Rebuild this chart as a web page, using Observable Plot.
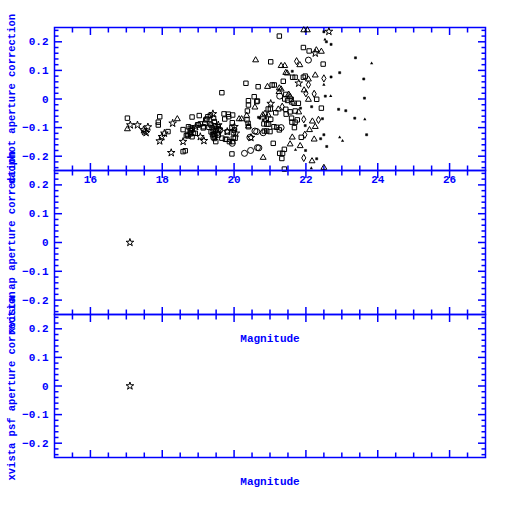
<!DOCTYPE html>
<html>
<head>
<meta charset="utf-8">
<script src="https://cdn.jsdelivr.net/npm/d3@7"></script>
<script src="https://cdn.jsdelivr.net/npm/@observablehq/plot@0.6"></script>
<style>
  html, body { margin: 0; padding: 0; background: white; }
  #chart { position: relative; width: 512px; height: 512px; }
  #chart svg { position: absolute; left: 0; top: 0; }
</style>
</head>
<body>
<div id="chart"></div>
<script>
// ---- axis values ----
const xLimits = [15, 27];
const yLimits = [-0.25, 0.25];
const xMajor = [16, 18, 20, 22, 24, 26];
const xMinor = [15.5, 16.5, 17, 17.5, 18.5, 19, 19.5, 20.5, 21, 21.5, 22.5, 23, 23.5, 24.5, 25, 25.5, 26.5];
const yMajor = [-0.2, -0.1, 0, 0.1, 0.2];
const yMinor = [-0.24, -0.22, -0.18, -0.16, -0.14, -0.12, -0.08, -0.06, -0.04, -0.02,
                0.02, 0.04, 0.06, 0.08, 0.12, 0.14, 0.16, 0.18, 0.22, 0.24];
const yLabels = ["daophot aperture correction", "xvista ap aperture correction", "xvista psf aperture correction"];
const xLabel = "Magnitude";

// ---- top panel: [magnitude, correction] by marker ----
const squares = [
  [17.03,-0.067],[17.89,-0.081],[17.89,-0.091],[17.93,-0.062],[18.16,-0.114],[18.58,-0.107],[18.58,-0.184],[18.64,-0.181],
  [18.78,-0.122],[18.83,-0.063],[18.78,-0.111],[18.83,-0.102],[18.87,-0.120],[19.0,-0.090],[19.03,-0.058],[19.14,-0.101],
  [19.19,-0.085],[19.24,-0.070],[19.30,-0.099],[19.33,-0.087],[19.43,-0.067],[19.45,-0.079],[19.49,-0.149],[19.66,0.022],
  [19.72,-0.052],[19.74,-0.070],[19.76,-0.141],[19.85,-0.062],[19.94,-0.192],[19.95,-0.083],[19.98,-0.118],[19.98,-0.137],
  [20.33,0.055],[20.37,-0.042],[20.40,-0.006],[20.40,-0.021],[20.40,-0.097],[20.56,0.008],[20.63,-0.009],[20.67,0.043],
  [20.65,-0.007],[21.26,0.220],[21.93,0.180],[22.09,0.168],[21.02,0.130],[22.48,0.122],[21.63,0.076],[21.70,0.076],
  [21.93,0.076],[21.98,0.080],[21.37,0.062],[21.06,0.049],[21.12,0.049],[21.44,0.016],[21.41,0.0],[21.49,-0.005],
  [21.59,-0.001],[22.30,-0.001],[20.95,-0.035],[21.01,-0.035],[21.44,-0.036],[21.67,-0.015],[21.79,-0.015],[21.56,-0.045],
  [21.70,-0.042],[22.43,-0.032],[21.16,-0.048],[21.45,-0.053],[21.60,-0.067],[21.76,-0.073],[20.83,-0.087],[20.91,-0.088],
  [20.96,-0.088],[21.02,-0.071],[21.61,-0.081],[21.70,-0.081],[21.11,-0.097],[21.19,-0.099],[21.68,-0.100],[20.84,-0.112],
  [20.91,-0.112],[21.0,-0.114],[21.26,-0.108],[21.09,-0.155],[21.87,-0.134],[21.40,-0.176],[21.27,-0.190],[21.35,-0.190],
  [21.33,-0.208],[21.40,-0.245],
  [19.21,-0.073],[19.27,-0.062],[19.34,-0.057],[19.84,-0.053],[19.96,-0.056],[20.36,-0.073],[20.39,-0.085],
  [19.66,-0.137],[19.80,-0.141],[19.87,-0.149],[19.96,-0.149],[20.03,-0.137],[19.56,-0.097],[19.61,-0.108],[19.56,-0.126],
  [19.81,-0.115],[19.94,-0.099],[20.01,-0.108],[19.06,-0.087],[18.99,-0.091],[18.73,-0.097],[18.78,-0.102],[18.83,-0.108],
  [18.83,-0.132],[18.92,-0.120],[19.15,-0.097],
  [19.36,-0.091],[19.39,-0.101],[19.42,-0.112],[19.44,-0.122],[19.47,-0.129],[19.50,-0.105],[19.42,-0.133],[19.36,-0.115],
  [19.53,-0.119],[19.47,-0.094],[18.67,-0.128],[18.72,-0.129],[18.70,-0.124],[19.40,-0.125],[19.45,-0.138]
];
const stars = [
  [17.11,-0.091],[17.31,-0.091],[17.48,-0.108],[17.51,-0.114],[17.55,-0.118],[17.60,-0.098],[17.93,-0.147],[17.99,-0.132],
  [18.06,-0.120],[18.25,-0.188],[18.29,-0.085],[18.58,-0.149],[18.93,-0.097],[19.06,-0.132],[19.16,-0.146],[19.41,-0.052],
  [19.56,-0.091],[19.58,-0.108],[19.81,-0.114],[20.01,-0.097],[20.05,-0.120],[22.26,0.160],[21.02,-0.016],[20.47,-0.135],
  [21.80,0.055],[22.64,0.236]
];
const triangles = [
  [17.03,-0.105],[18.42,-0.070],[20.14,-0.070],[20.21,-0.070],[20.35,-0.058],[20.58,-0.029],[20.60,0.136],[21.94,0.241],
  [22.04,0.241],[22.29,0.171],[22.43,0.166],[21.83,0.119],[21.31,0.116],[21.41,0.116],[21.44,0.092],[21.48,0.090],
  [22.07,0.069],[22.26,0.083],[20.93,0.043],[21.26,0.038],[21.31,0.034],[21.25,0.025],[21.52,0.016],[21.95,0.031],
  [21.56,0.008],[21.62,-0.012],[22.07,-0.002],[21.23,-0.036],[21.80,-0.046],[20.80,-0.056],[20.86,-0.051],[20.95,-0.056],
  [22.18,-0.078],[22.26,-0.097],[22.10,-0.108],[21.62,-0.134],[22.23,-0.141],[21.56,-0.158],[21.84,-0.164],[20.81,-0.205],
  [22.17,-0.217],[22.50,-0.240],[20.40,-0.095]
];
const circles = [
  [19.95,-0.155],[20.29,-0.190],[20.44,-0.134],[20.46,-0.180],[20.65,-0.170],[20.63,-0.114],[20.58,-0.112],[21.27,0.010],
  [21.31,-0.100],[22.07,0.136],[20.81,-0.118],[20.69,-0.171]
];
const diamonds = [
  [21.74,0.132],[22.50,0.072],[22.07,0.050],[22.0,0.020],[22.23,0.018],[21.34,-0.027],[21.94,-0.071],[22.35,-0.073],
  [21.97,-0.125],[21.94,-0.206]
];
const dots = [
  [22.50,0.235],[22.57,0.200],[22.70,0.191],[23.38,0.144],[22.94,0.092],[22.70,0.077],[23.61,0.070],[22.54,0.010],
  [23.63,0.003],[21.85,-0.032],[22.16,-0.027],[22.91,-0.036],[23.11,-0.041],[22.46,-0.069],[23.36,-0.067],[21.98,-0.093],
  [22.50,-0.125],[23.69,-0.125],[22.41,-0.139],[21.99,-0.180],[22.58,-0.166],[22.30,-0.209],[21.62,0.097],[20.72,-0.067],
  [20.68,-0.064],[20.88,-0.067],[20.81,-0.073],[20.92,-0.077]
];
const ticksMarks = [
  [22.53,0.208],[23.83,0.125],[22.50,0.050],[22.69,0.010],[23.64,-0.071],[22.94,-0.134],[23.02,-0.146],[21.71,-0.178],
  [22.15,-0.242]
];
// ---- lower panels ----
const apStars = [[17.1, 0.0]];
const psfStars = [[17.1, 0.0]];

const blue = "#0000ff";
const W = 512, H = 512;
const panels = [
  {top: 27, bottom: 170},
  {top: 170, bottom: 314},
  {top: 314, bottom: 457}
];
const fmtY = d => d === 0 ? "0" : (d < 0 ? "\u2212" + Math.abs(d) : String(d));

function tickAxes() {
  const out = [];
  for (const anchor of ["top", "bottom"]) {
    out.push(Plot.axisX(xMajor, {anchor, tickSize: -7, strokeWidth: 1.5, stroke: blue, fill: "none", label: null}));
    out.push(Plot.axisX(xMinor, {anchor, tickSize: -4.5, strokeWidth: 1.5, stroke: blue, fill: "none", label: null}));
  }
  for (const anchor of ["left", "right"]) {
    out.push(Plot.axisY(yMajor, {anchor, tickSize: -8, strokeWidth: 1.5, stroke: blue, fill: "none", label: null}));
    out.push(Plot.axisY(yMinor, {anchor, tickSize: -4.5, strokeWidth: 1.5, stroke: blue, fill: "none", label: null}));
  }
  return out;
}

const pt = {x: d => d[0], y: d => d[1]};

function makePanel(i, dataMarks) {
  const p = panels[i];
  const marks = [
    Plot.frame({stroke: blue, strokeWidth: 1.5}),
    ...tickAxes(),
    Plot.axisY(yMajor, {anchor: "left", tickSize: 0, tickPadding: 6, tickFormat: fmtY, fill: blue, label: null, fontSize: 11}),
    Plot.text([yLabels[i]], {text: d => d, frameAnchor: "left", textAnchor: "middle", lineAnchor: "middle", rotate: -90, dx: -43, fill: blue, fontSize: 10.5}),
    ...dataMarks
  ];
  if (i === 0) {
    marks.push(Plot.axisX(xMajor, {anchor: "bottom", tickSize: 0, tickPadding: 5, tickFormat: d => String(d), fill: blue, label: null, fontSize: 11}));
  } else {
    marks.push(Plot.text([xLabel], {text: d => d, frameAnchor: "bottom", dy: 27, fill: blue, fontSize: 11}));
  }
  return Plot.plot({
    width: W, height: H,
    marginLeft: 54, marginRight: 27,
    marginTop: p.top, marginBottom: H - p.bottom,
    x: {domain: xLimits},
    y: {domain: yLimits},
    style: {background: "transparent", fontFamily: "Liberation Mono", fontWeight: "bold", fontSize: "11px", overflow: "visible"},
    marks
  });
}

const topMarks = [
  Plot.dot(squares, {...pt, symbol: "square", r: 2.5, stroke: "black", fill: "none", strokeWidth: 1}),
  Plot.dot(triangles, {...pt, symbol: "triangle", r: 2.2, stroke: "black", fill: "none", strokeWidth: 1}),
  Plot.dot(stars, {...pt, symbol: "star", r: 2.4, stroke: "black", fill: "none", strokeWidth: 1}),
  Plot.dot(circles, {...pt, symbol: "circle", r: 3.0, stroke: "black", fill: "none", strokeWidth: 1}),
  Plot.dot(diamonds, {...pt, symbol: "diamond", r: 2.2, stroke: "black", fill: "none", strokeWidth: 1}),
  Plot.dot(dots, {...pt, symbol: "square", r: 1.2, fill: "black", stroke: "black", strokeWidth: 0.5}),
  Plot.dot(ticksMarks, {...pt, symbol: "triangle", r: 1.2, fill: "black", stroke: "none"})
];
const midMarks = [Plot.dot(apStars, {...pt, symbol: "star", r: 2.4, stroke: "black", fill: "none", strokeWidth: 1})];
const botMarks = [Plot.dot(psfStars, {...pt, symbol: "star", r: 2.4, stroke: "black", fill: "none", strokeWidth: 1})];

const chart = document.getElementById("chart");
chart.append(makePanel(0, topMarks));
chart.append(makePanel(1, midMarks));
chart.append(makePanel(2, botMarks));
</script>
</body>
</html>
